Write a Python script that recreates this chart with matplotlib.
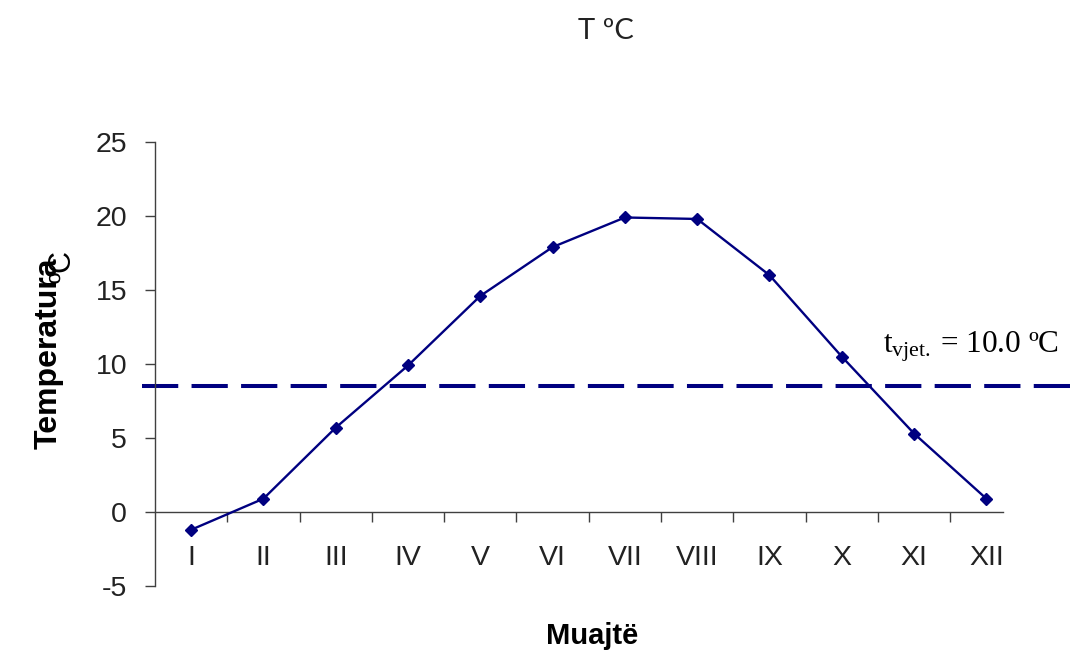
import numpy as np
import matplotlib
matplotlib.use("Agg")
import matplotlib.pyplot as plt

months = ['I', 'II', 'III', 'IV', 'V', 'VI', 'VII', 'VIII', 'IX', 'X', 'XI', 'XII']
temps = [-1.2, 0.9, 5.7, 9.9, 14.6, 17.9, 19.9, 19.8, 16.0, 10.5, 5.3, 0.9]
mean_line = 8.5
yticks = [-5, 0, 5, 10, 15, 20, 25]

plt.rcParams['font.family'] = ['Liberation Sans', 'DejaVu Sans']
plt.rcParams['axes.unicode_minus'] = False

fig = plt.figure(figsize=(10.71, 6.5), dpi=100)
ax = fig.add_axes([155/1071, 64/650, 848/1071, 444/650])

x = np.arange(len(months))
ax.plot(x, temps, color='#000080', lw=1.7, marker='D', ms=6, zorder=3)

ax.axhline(mean_line, xmin=-0.015, xmax=1.1, color='#000080', lw=2.9,
           dashes=(9, 3.3), clip_on=False, zorder=2)

ax.set_xlim(-0.5, 11.23)
ax.set_ylim(-5, 25)
ax.set_yticks(yticks)

ax.set_xticks(x)
ax.set_xticklabels(months)
ax.set_xticks(x[:-1] + 0.5, minor=True)
ax.tick_params(axis='x', which='major', length=0, pad=24, labelsize=20.5, labelcolor='#222222')
ax.tick_params(axis='x', which='minor', length=7, width=1, color='#404040', direction='out')
ax.tick_params(axis='y', length=7, width=1, color='#404040', pad=13, labelsize=20.5,
               labelcolor='#222222')

for s in ['top', 'right']:
    ax.spines[s].set_visible(False)
ax.spines['bottom'].set_position(('data', 0))
for s in ['left', 'bottom']:
    ax.spines[s].set_color('#404040')
    ax.spines[s].set_linewidth(1)

ax.text(9.57, 10.75, r'$\mathregular{t_{vjet.}\,}$= 10.0 ºC', family='Liberation Serif',
        fontsize=22.5, ha='left', va='baseline', color='black')

fig.text(606/1071, 1 - 39/650, 'T ºC', family=['Lato', 'DejaVu Sans'], fontsize=21,
         ha='center', va='baseline', color='#222222')
fig.text(49/1071, 1 - 353/650, 'Temperatura', fontsize=23, fontweight='bold',
         rotation=90, ha='center', va='center')
fig.text(63/1071, 1 - 266/650, 'ºC', fontsize=22, rotation=90, ha='center', va='center')
fig.text(592/1071, 1 - 644/650, 'Muajtë', fontsize=21, fontweight='bold',
         ha='center', va='baseline')

fig.savefig('out.png', dpi=100)
